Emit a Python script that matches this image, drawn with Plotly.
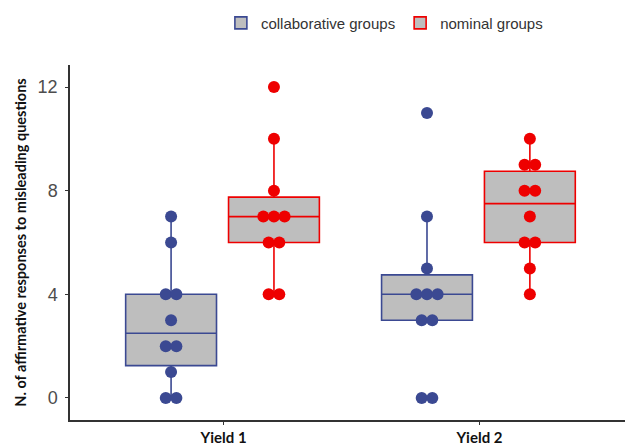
import numpy as np
import plotly.graph_objects as go

categories = ["Yield 1", "Yield 2"]
groups = ["collaborative groups", "nominal groups"]
collab_values = {
    "Yield 1": [0, 0, 1, 2, 2, 3, 4, 4, 6, 7],
    "Yield 2": [0, 0, 3, 3, 4, 4, 4, 5, 7, 11],
}
nominal_values = {
    "Yield 1": [4, 4, 6, 6, 7, 7, 7, 8, 10, 12],
    "Yield 2": [4, 5, 6, 6, 7, 8, 8, 9, 9, 10],
}
y_ticks = [0, 4, 8, 12]

colors = {"collaborative groups": "#3B4992", "nominal groups": "#EE0000"}
series = {"collaborative groups": collab_values, "nominal groups": nominal_values}
offsets = {"collaborative groups": -0.205, "nominal groups": 0.197}
BOX_W = 0.355
DOT_STEP = 0.0415

fig = go.Figure()


def stats(v):
    a = np.array(v, dtype=float)
    q1, med, q3 = np.percentile(a, [25, 50, 75])
    iqr = q3 - q1
    lo = a[a >= q1 - 1.5 * iqr].min()
    hi = a[a <= q3 + 1.5 * iqr].max()
    return q1, med, q3, lo, hi


for g in groups:
    xs, q1s, meds, q3s, los, his = [], [], [], [], [], []
    for i, c in enumerate(categories):
        q1, med, q3, lo, hi = stats(series[g][c])
        xs.append(i + 1 + offsets[g])
        q1s.append(q1); meds.append(med); q3s.append(q3); los.append(lo); his.append(hi)
    fig.add_trace(go.Box(
        x=xs, q1=q1s, median=meds, q3=q3s, lowerfence=los, upperfence=his,
        width=BOX_W, whiskerwidth=0, boxpoints=False,
        fillcolor="#BEBEBE", line=dict(color=colors[g], width=1.6),
        name=g, showlegend=True, hoverinfo="skip",
    ))

for g in groups:
    px, py = [], []
    for i, c in enumerate(categories):
        vals = series[g][c]
        center = i + 1 + offsets[g]
        for v in sorted(set(vals)):
            n = vals.count(v)
            for k in range(n):
                px.append(center + (k - (n - 1) / 2) * DOT_STEP)
                py.append(v)
    fig.add_trace(go.Scatter(
        x=px, y=py, mode="markers",
        marker=dict(color=colors[g], size=12, line=dict(width=0)),
        showlegend=False, hoverinfo="skip",
    ))

# the page body adds an 8px offset, so the figure is sized/margined to compensate
fig.update_layout(
    width=625, height=440,
    margin=dict(l=62, r=0, t=57, b=28, autoexpand=False),
    plot_bgcolor="white", paper_bgcolor="white",
    boxmode="overlay",
    legend=dict(orientation="h", x=0.268, xanchor="left", y=1.118, yanchor="middle",
                font=dict(family="Liberation Sans, Arial", size=15, color="#333333"),
                itemclick=False, itemdoubleclick=False),
    xaxis=dict(
        range=[0.4, 2.6], tickmode="array", tickvals=[1, 2], ticktext=categories,
        showline=True, linecolor="#333333", linewidth=1.5, ticks="outside", ticklen=3,
        tickcolor="#333333", showgrid=False, zeroline=False, automargin=False,
        tickfont=dict(family="Lato, Liberation Sans", size=15, color="#111111", weight="bold"),
    ),
    yaxis=dict(
        range=[-0.85, 12.85], tickmode="array", tickvals=y_ticks,
        ticktext=[str(t) for t in y_ticks],
        showline=True, linecolor="#333333", linewidth=1.5, ticks="outside", ticklen=3,
        tickcolor="#333333", showgrid=False, zeroline=False, automargin=False,
        ticklabelstandoff=4,
        tickfont=dict(family="Liberation Sans, Arial", size=18, color="#4D4D4D"),
        title=dict(text="N. of affirmative responses to misleading questions",
                   font=dict(family="Lato, Liberation Sans", size=14.5, color="#111111", weight="bold"),
                   standoff=8),
    ),
)

fig.write_html("out.html")
